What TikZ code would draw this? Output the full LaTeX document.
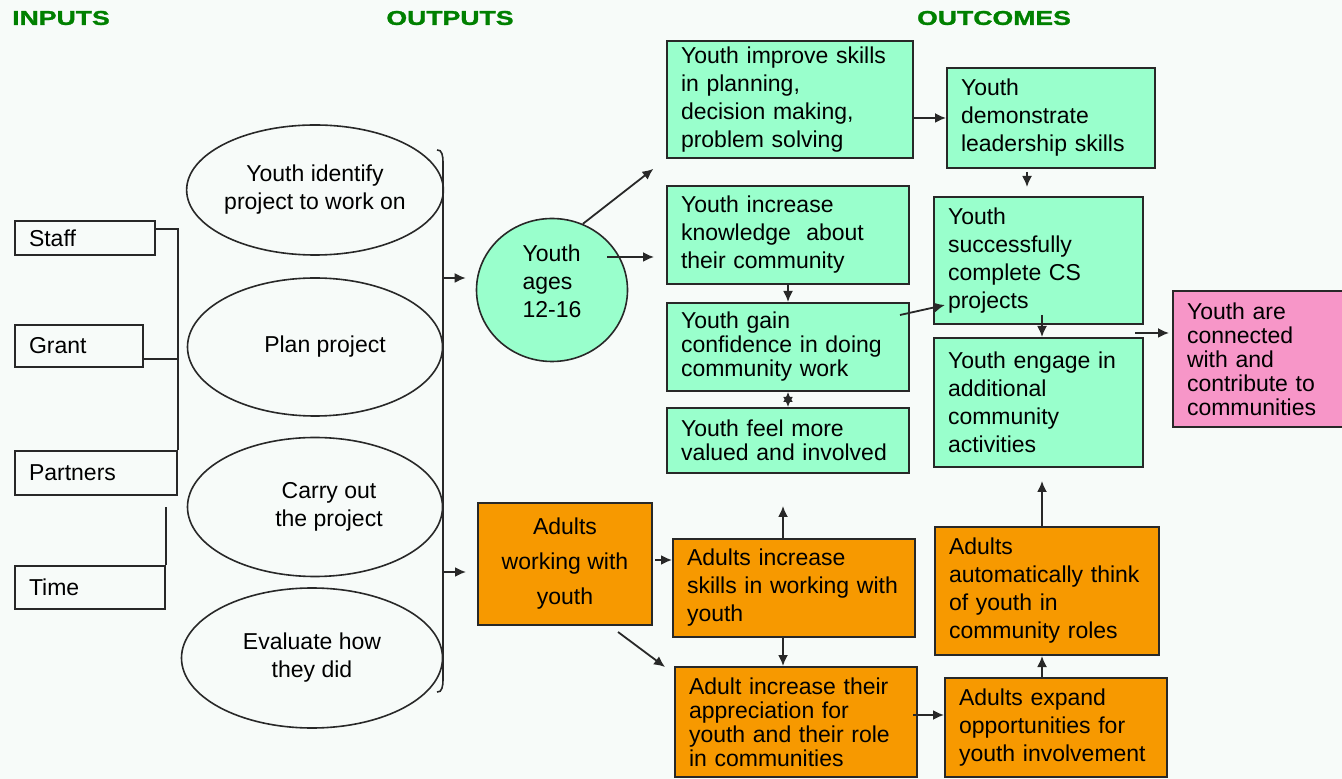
\documentclass[tikz,border=0pt]{standalone}
\usepackage{fontspec}
\setmainfont{Liberation Sans}
\newfontfamily\headfont{Liberation Sans}[FakeStretch=1.33,BoldFeatures={FakeBold=1.5}]
\usetikzlibrary{arrows.meta,shapes.geometric}
\definecolor{mint}{RGB}{153,255,204}
\definecolor{amber}{RGB}{247,153,0}
\definecolor{rose}{RGB}{247,150,200}
\definecolor{ink}{RGB}{40,40,40}
\definecolor{leaf}{RGB}{0,128,0}
\definecolor{paper}{RGB}{247,251,249}

\begin{document}
\begin{tikzpicture}[x=0.5pt,y=-0.5pt,
    every node/.style={font=\fontsize{11.5}{14}\selectfont},
    tight/.style={font=\fontsize{11.5}{12}\selectfont},
    head/.style={font=\headfont\bfseries\fontsize{10}{12}\selectfont,text=leaf},
    dim/.style 2 args={minimum width=#1*0.5pt,minimum height=#2*0.5pt},
    sz/.style 2 args={dim={#1}{#2},text width=#1*0.5pt-14pt},
    box/.style={draw=ink,line width=1pt,inner xsep=7pt,inner ysep=0pt,align=left},
    inbox/.style={box},
    act/.style={ellipse,draw=ink,line width=0.8pt,align=center,inner sep=0pt},
    ybox/.style={box,fill=mint},
    abox/.style={box,fill=amber},
    arr/.style={-{Latex[length=5.5pt,width=5pt]},line width=0.9pt,draw=ink}]
    \useasboundingbox (0,0) rectangle (1342,779);
    \fill[paper] (0,0) rectangle (1342,779);

    \node[head] (hin) at (61,18) {INPUTS};
    \node[head] (hout) at (450,18) {OUTPUTS};
    \node[head] (hoc) at (994,18) {OUTCOMES};

    % inputs
    \node[inbox,sz={140}{34}] (staff) at (85,238) {Staff};
    \node[inbox,sz={128}{42}] (grant) at (79,346) {Grant};
    \node[inbox,sz={162}{44}] (partners) at (96,473) {Partners};
    \node[inbox,sz={150}{43}] (time) at (90,587.5) {Time};
    \draw[line width=1pt,draw=ink] ([yshift=-4.5pt]staff.north east) -| (partners.north east);
    \draw[line width=1pt,draw=ink] ([yshift=4.5pt]grant.south east) -- ([yshift=4.5pt]grant.south east -| partners.east);
    \draw[line width=1pt,draw=ink] (time.north east) -- ++(0,-58);

    % outputs
    \node[act,dim={255}{130}] (identify) at (315,190) {Youth identify\\project to work on};
    \node[act,dim={255}{138}] (plan) at (315,347) {\hspace*{10pt}Plan project};
    \node[act,dim={255}{139}] (carry) at (315,507) {\hspace*{14pt}Carry out\\\hspace*{14pt}the project};
    \node[act,dim={261}{140}] (evaluate) at (312,658) {Evaluate how\\they did};
    \draw[line width=0.8pt,draw=ink] (437,150) to[out=10,in=90] (443,162) -- (443,680) to[out=-90,in=-10] (437,692);
    \coordinate (brup) at (443,278);
    \coordinate (brdn) at (443,572);

    \node[act,fill=mint,dim={151}{143},align=left] (youth) at (552,290) {Youth\\ages\\12-16\hspace*{12pt}\\[-5pt]};
    \node[abox,dim={174}{122},align=center,font=\fontsize{11.5}{17.5}\selectfont] (adults) at (565,564) {Adults\\working with\\youth};
    \draw[arr,shorten >=5pt] (brup) -- (brup -| youth.west);
    \draw[arr,shorten >=5.5pt] (brdn) -- (brdn -| adults.west);

    % outcomes, youth
    \node[ybox,sz={246}{117}] (skills) at (790,99.5) {Youth improve skills\\in planning,\\decision making,\\problem solving};
    \node[ybox,sz={208}{100}] (lead) at (1051,118) {Youth\\demonstrate\\leadership skills};
    \node[ybox,sz={242}{98}] (know) at (788,235) {Youth increase\\knowledge~ about\\their community};
    \node[ybox,sz={209}{127}] (complete) at (1038.5,260.5) {Youth\\successfully\\complete CS\\projects};
    \node[ybox,tight,sz={242}{88}] (confid) at (788,347) {Youth gain\\confidence in doing\\community work};
    \node[ybox,tight,sz={242}{65}] (valued) at (788,440.5) {Youth feel more\\valued and involved};
    \node[ybox,sz={209}{129}] (engage) at (1038.5,402.5) {Youth engage in\\additional\\community\\activities};
    \node[box,fill=rose,tight,sz={180}{136}] (connect) at (1263,359) {Youth are\\connected\\with and\\contribute to\\communities};

    % outcomes, adults
    \node[abox,sz={242}{98}] (askills) at (794,588) {Adults increase\\skills in working with\\youth};
    \node[abox,tight,sz={242}{110}] (apprec) at (796,722) {Adult increase their\\appreciation for\\youth and their role\\in communities};
    \node[abox,sz={224}{128}] (think) at (1047,591) {Adults\\automatically think\\of youth in\\community roles};
    \node[abox,sz={222}{99}] (expand) at (1056,727.5) {Adults expand\\opportunities for\\youth involvement};

    \coordinate (ytail) at (607,257);
    \coordinate (conftail) at (900,315);
    \coordinate (comphead) at (945,305);
    \coordinate (leadtail) at (1027,172);
    \coordinate (comptail) at (1042,315);
    \coordinate (outtail) at (1135,333);
    \coordinate (adtail) at (655,560);
    \coordinate (adfoot) at (618,632);
    \coordinate (apphead) at (665,667);
    \coordinate (asktop) at (783,539);
    \coordinate (apptail) at (913,715);
    \coordinate (exptop) at (1042,678);

    \draw[arr,shorten >=8pt] (youth.65) -- (skills.south west);
    \draw[arr,shorten >=6pt] (ytail) -- (ytail -| know.west);
    \draw[arr] (skills.east |- lead.west) -- (lead.west);
    \draw[arr,shorten >=4.5pt] (leadtail) -- (leadtail |- complete.north);
    \draw[arr] (know.south) -- (confid.north);
    \draw[{Latex[length=5pt,width=5pt]}-{Latex[length=5pt,width=5pt]},line width=0.9pt,draw=ink] (confid.south) -- (valued.north);
    \draw[arr] (conftail) -- (comphead);
    \draw[arr] (comptail) -- (comptail |- engage.north);
    \draw[arr,shorten >=1.5pt] (outtail) -- (outtail -| connect.west);

    \draw[arr] (adtail) -- (adtail -| askills.west);
    \draw[arr] (adfoot) -- (apphead);
    \draw[arr,shorten >=16pt] (asktop) -- (asktop |- valued.south);
    \draw[arr] (asktop |- askills.south) -- (asktop |- apprec.north);
    \draw[arr] (apptail) -- (apptail -| expand.west);
    \draw[arr] (exptop) -- (exptop |- think.south);
    \draw[arr,shorten >=6.5pt] (exptop |- think.north) -- (exptop |- engage.south);
\end{tikzpicture}
\end{document}
